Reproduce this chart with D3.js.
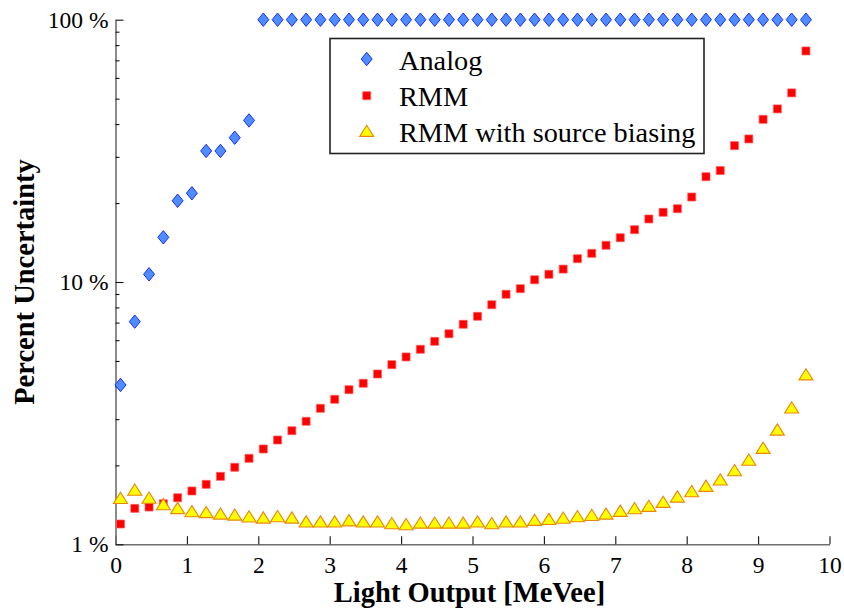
<!DOCTYPE html>
<html>
<head>
<meta charset="utf-8">
<script src="https://cdn.jsdelivr.net/npm/d3@7"></script>
<style>
  html, body { margin: 0; padding: 0; background: #fff; }
  svg { display: block; }
  text { font-family: "Liberation Serif", "Times New Roman", serif; fill: #000; }
</style>
</head>
<body>
<svg id="chart" width="844" height="609"></svg>
<script>
// Light output bin centres [MeVee]
const lightOutput = [0.07,0.27,0.47,0.67,0.87,1.07,1.27,1.47,1.67,1.87,
  2.07,2.27,2.47,2.67,2.87,3.07,3.27,3.47,3.67,3.87,
  4.07,4.27,4.47,4.67,4.87,5.07,5.27,5.47,5.67,5.87,
  6.07,6.27,6.47,6.67,6.87,7.07,7.27,7.47,7.67,7.87,
  8.07,8.27,8.47,8.67,8.87,9.07,9.27,9.47,9.67];

// Percent uncertainty per bin
const analog = [4.05,7.06,10.7,14.8,20.4,21.8,31.6,31.6,35.5,41.3,
  100,100,100,100,100,100,100,100,100,100,
  100,100,100,100,100,100,100,100,100,100,
  100,100,100,100,100,100,100,100,100,100,
  100,100,100,100,100,100,100,100,100];
const rmm = [1.195,1.371,1.387,1.428,1.505,1.597,1.693,1.816,1.966,2.127,
  2.309,2.498,2.711,2.944,3.300,3.571,3.885,4.11,4.46,4.84,
  5.18,5.54,5.94,6.35,6.90,7.40,8.19,8.98,9.43,10.2,
  10.7,11.2,12.27,12.86,13.80,14.75,15.83,17.39,18.44,19.03,
  21.09,25.2,26.6,33.1,35.1,41.7,45.7,52.6,76.0];
const rmmBiased = [1.501,1.613,1.504,1.42,1.373,1.336,1.325,1.308,1.296,1.276,
  1.263,1.278,1.263,1.22,1.22,1.22,1.233,1.22,1.22,1.202,
  1.192,1.208,1.208,1.208,1.208,1.22,1.202,1.22,1.22,1.238,
  1.247,1.262,1.278,1.293,1.308,1.34,1.371,1.40,1.45,1.519,
  1.592,1.669,1.764,1.914,2.10,2.33,2.735,3.32,4.44];

const seriesNames = ["Analog", "RMM", "RMM with source biasing"];
const xTicks = [0,1,2,3,4,5,6,7,8,9,10];
const yMajorTicks = [1, 10, 100];
const yMinorTicks = [2,3,4,5,6,7,8,9,20,30,40,50,60,70,80,90];
const xTitle = "Light Output [MeVee]";
const yTitle = "Percent Uncertainty";

const svg = d3.select("#chart");
const plotLeft = 115.5, plotRight = 829.5, plotTop = 19.7, plotBottom = 544.3;

const x = d3.scaleLinear().domain([0, 10]).range([plotLeft, plotRight]);
const y = d3.scaleLog().domain([1, 100]).range([plotBottom, plotTop]);

// Axes: ticks point inwards, only left and bottom spines
svg.append("g")
  .attr("transform", `translate(0,${plotBottom})`)
  .call(d3.axisBottom(x).tickValues(xTicks).tickFormat(d3.format("d"))
    .tickSizeInner(-8).tickSizeOuter(0).tickPadding(12));

svg.append("g")
  .attr("transform", `translate(${plotLeft},0)`)
  .call(d3.axisLeft(y).tickValues(yMajorTicks).tickFormat(d => d + " %")
    .tickSizeInner(-8).tickSizeOuter(0).tickPadding(7));

svg.append("g")
  .attr("transform", `translate(${plotLeft},0)`)
  .call(d3.axisLeft(y).tickValues(yMinorTicks).tickFormat("")
    .tickSizeInner(-4).tickSizeOuter(0))
  .call(g => g.select(".domain").remove());

svg.selectAll(".domain").attr("stroke", "#6e6e6e").attr("stroke-width", 1.6);
svg.selectAll(".tick line").attr("stroke", "#111").attr("stroke-width", 1.1);
svg.selectAll(".tick text")
  .attr("font-family", "'Liberation Serif', 'Times New Roman', serif")
  .attr("font-size", 23.5).attr("fill", "#000");

// Axis titles
svg.append("text")
  .attr("x", (plotLeft + plotRight) / 2 - 3).attr("y", 602)
  .attr("text-anchor", "middle")
  .attr("font-size", 28.5).attr("font-weight", "bold")
  .text(xTitle);

svg.append("text")
  .attr("transform", `translate(34,${(plotTop + plotBottom) / 2}) rotate(-90)`)
  .attr("text-anchor", "middle")
  .attr("font-size", 28.5).attr("font-weight", "bold")
  .text(yTitle);

// Marker shapes
const diamond = "M0,-6.7L5.5,0L0,6.7L-5.5,0Z";
const square = "M-4,-4H4V4H-4Z";
const triangle = "M0,-5.8L7,5.4L-7,5.4Z";

const styles = [
  { path: diamond, fill: "#4f8dff", stroke: "#1a2cff", sw: 1 },
  { path: square, fill: "#ff0000", stroke: "#ff5a5a", sw: 0.7 },
  { path: triangle, fill: "#ffff00", stroke: "#e8860c", sw: 1.1 }
];

const seriesData = [analog, rmm, rmmBiased];
seriesData.forEach((vals, si) => {
  svg.append("g").selectAll("path")
    .data(vals.map((v, i) => ({ x: lightOutput[i], v })))
    .join("path")
    .attr("d", styles[si].path)
    .attr("transform", d => `translate(${x(d.x)},${y(d.v)})`)
    .attr("fill", styles[si].fill)
    .attr("stroke", styles[si].stroke)
    .attr("stroke-width", styles[si].sw)
    .attr("stroke-linejoin", "miter");
});

// Legend
const legend = svg.append("g");
legend.append("rect")
  .attr("x", 330).attr("y", 38.5).attr("width", 374).attr("height", 115)
  .attr("fill", "#fff").attr("stroke", "#222").attr("stroke-width", 1.6);

const rowY = [59, 95.7, 131];
seriesNames.forEach((name, i) => {
  legend.append("path")
    .attr("d", styles[i].path)
    .attr("transform", `translate(366.7,${rowY[i]})`)
    .attr("fill", styles[i].fill)
    .attr("stroke", styles[i].stroke)
    .attr("stroke-width", styles[i].sw);
  legend.append("text")
    .attr("x", 399).attr("y", rowY[i] + 10.5)
    .attr("font-size", 28.3)
    .text(name);
});
</script>
</body>
</html>
